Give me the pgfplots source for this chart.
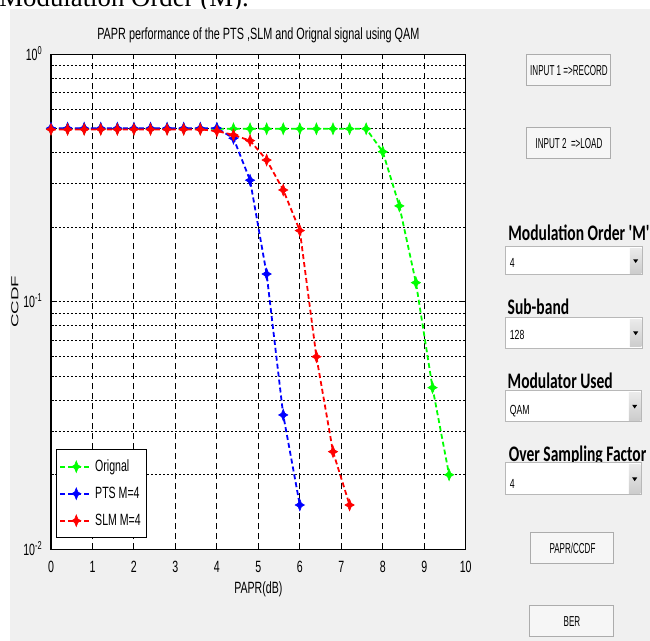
\documentclass[border=0pt]{standalone}
\usepackage{pgfplots}
\pgfplotsset{compat=1.18}
\usepackage{fontspec}
\setmainfont{Liberation Sans}
\newfontfamily\carlito{Carlito}
\newfontfamily\timesf{Liberation Serif}
\usepackage{graphicx}
\definecolor{guigray}{HTML}{F0F0F0}
\definecolor{btnface}{HTML}{F6F6F6}
\definecolor{btnborder}{HTML}{ACACAC}
\definecolor{ddborder}{HTML}{B8B8B8}
\definecolor{mgreen}{RGB}{0,255,0}
\definecolor{mblue}{RGB}{0,0,255}
\definecolor{mred}{RGB}{255,0,0}
\newcommand{\mfont}{\fontsize{8.15}{9.8}\selectfont}
\newcommand{\mt}[1]{\scalebox{0.65}[1]{#1}}
\newcommand{\bt}[1]{\fontsize{7.2}{8.6}\selectfont\scalebox{0.56}[1]{#1}}
\newcommand{\dt}[1]{\fontsize{6.6}{7.8}\selectfont\scalebox{0.66}[1]{#1}}
\newcommand{\ct}[1]{\carlito\bfseries\fontsize{11.1}{13}\selectfont\scalebox{0.7}[1]{#1}}
\pgfdeclareplotmark{star4}{%
  \pgfpathmoveto{\pgfqpoint{0pt}{\pgfplotmarksize}}%
  \pgfpathlineto{\pgfqpoint{.28\pgfplotmarksize}{.3\pgfplotmarksize}}%
  \pgfpathlineto{\pgfqpoint{.8\pgfplotmarksize}{0pt}}%
  \pgfpathlineto{\pgfqpoint{.28\pgfplotmarksize}{-.3\pgfplotmarksize}}%
  \pgfpathlineto{\pgfqpoint{0pt}{-\pgfplotmarksize}}%
  \pgfpathlineto{\pgfqpoint{-.28\pgfplotmarksize}{-.3\pgfplotmarksize}}%
  \pgfpathlineto{\pgfqpoint{-.8\pgfplotmarksize}{0pt}}%
  \pgfpathlineto{\pgfqpoint{-.28\pgfplotmarksize}{.3\pgfplotmarksize}}%
  \pgfpathclose
  \pgfusepathqfillstroke
}
\begin{document}
\begin{tikzpicture}
\begin{scope}[x=0.5pt,y=-0.5pt]
  \fill[white] (0,0) rectangle (650,641);
  \begin{scope}
    \clip (0,0) rectangle (650,641);
    \node[anchor=base west, inner sep=0, font=\timesf\fontsize{13.4}{16}\selectfont] at (-1,6.2) {Modulation Order (M).};
    \fill[guigray] (10,9) rectangle (650,641);
    % buttons
    \draw[btnborder, fill=btnface, line width=0.5pt] (527,55) rectangle (611,86);
    \node[inner sep=0] at (569,71) {\bt{INPUT 1 =>RECORD}};
    \draw[btnborder, fill=btnface, line width=0.5pt] (527,127.7) rectangle (611,159);
    \node[inner sep=0] at (569,143.5) {\bt{INPUT 2\ \ =>LOAD}};
    \draw[btnborder, fill=btnface, line width=0.5pt] (531,533) rectangle (614,564);
    \node[inner sep=0] at (572.5,548.5) {\bt{PAPR/CCDF}};
    \draw[btnborder, fill=btnface, line width=0.5pt] (530,606) rectangle (614,636.7);
    \node[inner sep=0] at (572,621.5) {\bt{BER}};
    % labels
    \node[anchor=base west, inner sep=0] at (508,240.7) {\ct{Modulation Order 'M'}};
    \node[anchor=base west, inner sep=0] at (507.3,315) {\ct{Sub-band}};
    \node[anchor=base west, inner sep=0] at (507.3,389) {\ct{Modulator Used}};
    \node[anchor=base west, inner sep=0] at (508.5,461.5) {\ct{Over Sampling Factor}};
    % dropdowns
    \foreach \ya/\yb/\xr/\txt/\bl in {246.7/275/643/4/267.7, 317.7/348.3/643/128/340, 391/421.7/642/QAM/415, 463/495/642/4/488.3}{
      \draw[ddborder, fill=white, line width=0.5pt] (506,\ya) rectangle (\xr,\yb);
      \shade[top color=white!92!black, bottom color=white!80!black] (\xr-13,\ya+1.5) rectangle (\xr-1.5,\yb-1.5);
      \fill[black] ({\xr-9.8},{(\ya+\yb)/2-1.5}) -- ({\xr-4.8},{(\ya+\yb)/2-1.5}) -- ({\xr-7.3},{(\ya+\yb)/2+2.2}) -- cycle;
      \node[anchor=base west, inner sep=0] at (509.5,\bl) {\dt{\txt}};
    }
  \end{scope}
\end{scope}

\begin{axis}[
  at={(25.5pt,-274.65pt)}, anchor=south west,
  scale only axis, width=207.35pt, height=247.5pt,
  xmin=0, xmax=10, ymode=log, ymin=0.01, ymax=1,
  axis background/.style={fill=white},
  axis line style={black, line width=0.7pt},
  xtick={0,1,2,3,4,5,6,7,8,9,10},
  xticklabels={\mt{0},\mt{1},\mt{2},\mt{3},\mt{4},\mt{5},\mt{6},\mt{7},\mt{8},\mt{9},\mt{10}},
  ytick={0.01,0.1,1},
  yticklabels={\mt{10\textsuperscript{-2}},\mt{10\textsuperscript{-1}},\mt{10\textsuperscript{0}}},
  tick label style={font=\mfont},
  xticklabel style={anchor=base, yshift=-11.7pt},
  yticklabel style={anchor=base east, xshift=-0.8pt, yshift=-2.9pt},
  tick align=inside, major tick length=2.5pt, minor tick length=1.5pt,
  tick style={black, line width=0.5pt},
  xmajorgrids, ymajorgrids, yminorgrids,
  major x grid style={black, line width=0.5pt, dash pattern=on 3pt off 2pt},
  major y grid style={black, line width=0.6pt, dash pattern=on 1pt off 1pt},
  minor y grid style={black, line width=0.6pt, dash pattern=on 1pt off 1pt},
  every axis title shift=0pt,
  title={\scalebox{0.665}[1]{PAPR performance of the PTS ,SLM and Orignal signal using QAM}},
  title style={font=\mfont, at={(axis description cs:0.5,1)}, anchor=base, yshift=7.2pt},
  xlabel={\mt{PAPR(dB)}},
  xlabel style={font=\mfont, at={(axis description cs:0.5,0)}, anchor=base, yshift=-22.05pt},
  ylabel={\scalebox{1.15}[0.62]{CCDF}},
  ylabel style={font=\mfont, at={(axis description cs:-0.0868,0.5)}, anchor=center},
  legend style={at={(axis description cs:0.0113,0.0228)}, anchor=south west, draw=black, fill=white,
    inner xsep=1.65pt, inner ysep=3.7pt, row sep=4pt,
    nodes={inner sep=1pt, text height=6pt, text depth=1.5pt, font=\mfont}},
  legend cell align=left,
  legend image code/.code={\draw[mark repeat=2,mark phase=2,#1] plot coordinates {(0pt,0pt) (8pt,0pt) (16pt,0pt)};},
  every axis plot/.append style={line width=0.9pt, dash pattern=on 2.5pt off 1.5pt, mark=star4, mark size=2.9pt},
]
\addplot[color=mgreen, mark options={solid, fill=mgreen, line width=0.3pt}] coordinates {
 (0,0.5) (0.4,0.5) (0.8,0.5) (1.2,0.5) (1.6,0.5) (2.0,0.5) (2.4,0.5) (2.8,0.5) (3.2,0.5) (3.6,0.5)
 (4.0,0.5) (4.4,0.5) (4.8,0.5) (5.2,0.5) (5.6,0.5) (6.0,0.5) (6.4,0.5) (6.8,0.5) (7.2,0.5) (7.6,0.5)
 (8.0,0.404) (8.4,0.244) (8.8,0.1195) (9.2,0.045) (9.6,0.020)};
\addlegendentry{\mt{Orignal}}
\addplot[color=mblue, mark options={solid, fill=mblue, line width=0.3pt}] coordinates {
 (0,0.503) (0.4,0.503) (0.8,0.503) (1.2,0.503) (1.6,0.503) (2.0,0.503) (2.4,0.503) (2.8,0.503) (3.2,0.503) (3.6,0.503)
 (4.0,0.503) (4.4,0.458) (4.8,0.31) (5.2,0.1295) (5.6,0.0349) (6.0,0.0151)};
\addlegendentry{\mt{PTS M=4}}
\addplot[color=mred, mark options={solid, fill=mred, line width=0.3pt}] coordinates {
 (0,0.497) (0.4,0.497) (0.8,0.497) (1.2,0.497) (1.6,0.497) (2.0,0.497) (2.4,0.497) (2.8,0.497) (3.2,0.497) (3.6,0.497)
 (4.0,0.49) (4.4,0.472) (4.8,0.448) (5.2,0.374) (5.6,0.283) (6.0,0.194) (6.4,0.060) (6.8,0.0248) (7.2,0.0151)};
\addlegendentry{\mt{SLM M=4}}
\end{axis}
\pgfresetboundingbox
\path[use as bounding box] (0pt,0pt) rectangle (325pt,-320.5pt);
\end{tikzpicture}
\end{document}
